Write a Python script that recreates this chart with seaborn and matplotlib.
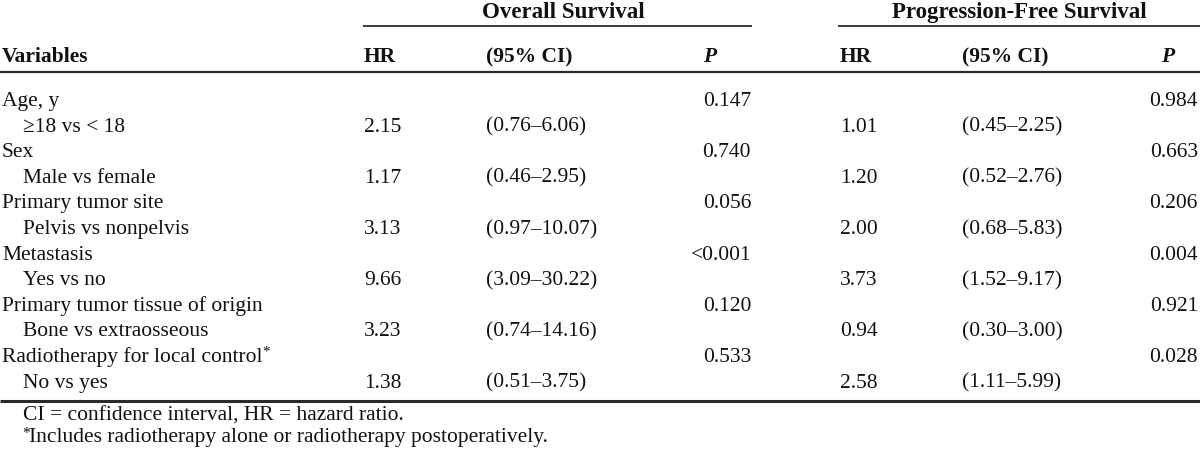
import matplotlib
matplotlib.use("Agg")
import matplotlib.pyplot as plt
import seaborn as sns

# ---------------- data ----------------
variables = ["Age, y", "Sex", "Primary tumor site", "Metastasis",
             "Primary tumor tissue of origin", "Radiotherapy for local control"]
comparisons = ["\u226518 vs < 18", "Male vs female", "Pelvis vs nonpelvis",
               "Yes vs no", "Bone vs extraosseous", "No vs yes"]
os_hr = ["2.15", "1.17", "3.13", "9.66", "3.23", "1.38"]
os_ci_low = ["0.76", "0.46", "0.97", "3.09", "0.74", "0.51"]
os_ci_high = ["6.06", "2.95", "10.07", "30.22", "14.16", "3.75"]
os_p = ["0.147", "0.740", "0.056", "<0.001", "0.120", "0.533"]
pfs_hr = ["1.01", "1.20", "2.00", "3.73", "0.94", "2.58"]
pfs_ci_low = ["0.45", "0.52", "0.68", "1.52", "0.30", "1.11"]
pfs_ci_high = ["2.25", "2.76", "5.83", "9.17", "3.00", "5.99"]
pfs_p = ["0.984", "0.663", "0.206", "0.004", "0.921", "0.028"]
group_titles = ["Overall Survival", "Progression-Free Survival"]
col_headers = ["Variables", "HR", "(95% CI)", "P"]
footnotes = ["CI = confidence interval, HR = hazard ratio.",
             "Includes radiotherapy alone or radiotherapy postoperatively."]
starred = {5}  # variable index with footnote mark

# ---------------- style ----------------
sns.set_theme(style="white")
plt.rcParams["font.family"] = ["Liberation Serif", "DejaVu Serif"]
FS = 15.5
FS_TITLE = 16.5
INK = "#111111"
RULE = "#2a2a2a"

fig = plt.figure(figsize=(12, 4.58), dpi=100)
ax = fig.add_axes([0, 0, 1, 1])
ax.set_xlim(0, 1200)
ax.set_ylim(458, 0)
ax.axis("off")

# layout (table grid)
x_var, x_sub = 2, 23
os_cols = dict(hr=364, ci=486, p=751, p_head=710, line=(363, 752), title=563)
pfs_cols = dict(hr=840, ci=962, p=1198, p_head=1168, line=(838, 1200), title=1019)
y_title, y_uline, y_head, y_rule = 18, 26, 62, 72
y0, dy = 106, 25.6
y_bottom = 401
y_fn = [421, 442]

# group titles and underlines
for cols, title in zip([os_cols, pfs_cols], group_titles):
    ax.text(cols["title"], y_title, title, ha="center", va="baseline",
            fontsize=FS_TITLE, fontweight="bold", color=INK)
    ax.plot(cols["line"], [y_uline, y_uline], color=RULE, lw=1.3,
            solid_capstyle="butt")

# column headers
ax.text(x_var, y_head, col_headers[0], ha="left", va="baseline",
        fontsize=FS, fontweight="bold", color=INK)
for cols in [os_cols, pfs_cols]:
    ax.text(cols["hr"], y_head, col_headers[1], ha="left", va="baseline",
            fontsize=FS, fontweight="bold", color=INK)
    ax.text(cols["ci"], y_head, col_headers[2], ha="left", va="baseline",
            fontsize=FS, fontweight="bold", color=INK)
    ax.text(cols["p_head"], y_head, col_headers[3], ha="center", va="baseline",
            fontsize=FS, fontweight="bold", fontstyle="italic", color=INK)

ax.plot([0, 1200], [y_rule, y_rule], color=RULE, lw=1.6,
        solid_capstyle="butt")

# body rows
for i in range(len(variables)):
    y_main = y0 + (2 * i) * dy
    y_sub = y0 + (2 * i + 1) * dy
    t = ax.text(x_var, y_main, variables[i], ha="left", va="baseline",
                fontsize=FS, color=INK)
    if i in starred:
        ax.annotate("*", xy=(1, 1), xycoords=t, xytext=(0, 1),
                    textcoords="offset points", ha="left", va="top",
                    fontsize=FS * 0.7, color=INK)
    ax.text(x_sub, y_sub, comparisons[i], ha="left", va="baseline",
            fontsize=FS, color=INK)
    for cols, hr, lo, hi, p in [(os_cols, os_hr, os_ci_low, os_ci_high, os_p),
                                (pfs_cols, pfs_hr, pfs_ci_low, pfs_ci_high, pfs_p)]:
        ax.text(cols["p"], y_main, p[i], ha="right", va="baseline",
                fontsize=FS, color=INK)
        ax.text(cols["hr"], y_sub, hr[i], ha="left", va="baseline",
                fontsize=FS, color=INK)
        ax.text(cols["ci"], y_sub, f"({lo[i]}\u2013{hi[i]})", ha="left",
                va="baseline", fontsize=FS, color=INK)

ax.plot([0, 1200], [y_bottom, y_bottom], color=RULE, lw=2.2,
        solid_capstyle="butt")

# footnotes
ax.text(x_sub, y_fn[0], footnotes[0], ha="left", va="baseline",
        fontsize=FS, color=INK)
ax.text(x_sub - 1, y_fn[1] - 4, "*", ha="left", va="baseline",
        fontsize=FS * 0.72, color=INK)
ax.text(x_sub + 6, y_fn[1], footnotes[1], ha="left", va="baseline",
        fontsize=FS, color=INK)

fig.savefig("out.png", dpi=100, facecolor="white")
